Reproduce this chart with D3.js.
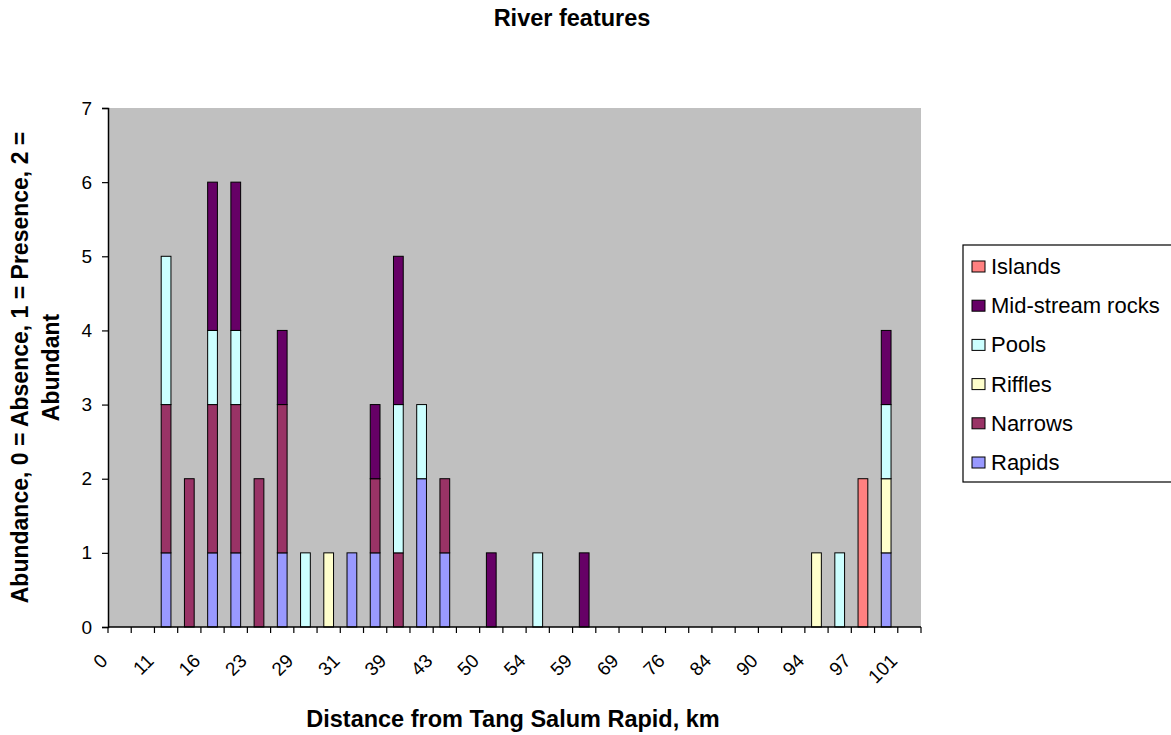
<!DOCTYPE html>
<html>
<head>
<meta charset="utf-8">
<script src="https://cdn.jsdelivr.net/npm/d3@7/dist/d3.min.js"></script>
<style>
  html, body { margin: 0; padding: 0; background: #fff; }
  svg { display: block; font-family: "Liberation Sans", Arial, sans-serif; }
</style>
</head>
<body>
<svg id="chart" width="1171" height="735"></svg>
<script>
// Distance along the river (km); every other station is labelled on the axis
const categories = ["0","5","11","14","16","19","23","26","29","30","31","35","39","41","43","47","50","52","54","57","59","64","69","73","76","80","84","87","90","92","94","95","97","99","101"];

// Abundance scores per station (0 = absence, 1 = presence, 2 = abundant)
const rapids  = [0,0,1,0,1,1,0,1,0,0, 1,1,0,2,1,0,0,0,0,0, 0,0,0,0,0,0,0,0,0,0, 0,0,0,1,0];
const narrows = [0,0,2,2,2,2,2,2,0,0, 0,1,1,0,1,0,0,0,0,0, 0,0,0,0,0,0,0,0,0,0, 0,0,0,0,0];
const riffles = [0,0,0,0,0,0,0,0,0,1, 0,0,0,0,0,0,0,0,0,0, 0,0,0,0,0,0,0,0,0,0, 1,0,0,1,0];
const pools   = [0,0,2,0,1,1,0,0,1,0, 0,0,2,1,0,0,0,0,1,0, 0,0,0,0,0,0,0,0,0,0, 0,1,0,1,0];
const rocks   = [0,0,0,0,2,2,0,1,0,0, 0,1,2,0,0,0,1,0,0,0, 1,0,0,0,0,0,0,0,0,0, 0,0,0,1,0];
const islands = [0,0,0,0,0,0,0,0,0,0, 0,0,0,0,0,0,0,0,0,0, 0,0,0,0,0,0,0,0,0,0, 0,0,2,0,0];

const seriesNames  = ["Rapids","Narrows","Riffles","Pools","Mid-stream rocks","Islands"];
const seriesValues = [rapids, narrows, riffles, pools, rocks, islands];
const seriesColors = ["#9999FF","#993366","#FFFFCC","#CCFFFF","#660066","#FF8080"];
const yTicks = [0,1,2,3,4,5,6,7];

const rows = categories.map((c, i) => {
  const r = { cat: c };
  seriesNames.forEach((s, k) => { r[s] = seriesValues[k][i]; });
  return r;
});

const svg = d3.select("#chart");
const plot = { left: 108, right: 921, top: 108, bottom: 627 };

const x = d3.scaleBand().domain(categories).range([plot.left, plot.right]).padding(0);
const y = d3.scaleLinear().domain([0, 7]).range([plot.bottom, plot.top]);
const color = d3.scaleOrdinal().domain(seriesNames).range(seriesColors);

// Plot background
svg.append("rect")
  .attr("x", plot.left).attr("y", plot.top)
  .attr("width", plot.right - plot.left).attr("height", plot.bottom - plot.top)
  .attr("fill", "#C0C0C0");

// Stacked bars
const stacked = d3.stack().keys(seriesNames)(rows);
const barW = x.bandwidth() * 0.42;
const layers = svg.append("g").selectAll("g")
  .data(stacked).join("g")
  .attr("fill", d => color(d.key));
layers.selectAll("rect")
  .data(d => d.filter(p => p[1] - p[0] > 0))
  .join("rect")
  .attr("x", p => x(p.data.cat) + (x.bandwidth() - barW) / 2)
  .attr("width", barW)
  .attr("y", p => y(p[1]))
  .attr("height", p => y(p[0]) - y(p[1]))
  .attr("stroke", "#000")
  .attr("stroke-width", 1);

// Y axis
const yAxis = svg.append("g")
  .attr("transform", `translate(${plot.left},0)`)
  .call(d3.axisLeft(y).tickValues(yTicks).tickSize(6).tickPadding(10).tickFormat(d3.format("d")));
yAxis.select(".domain").attr("stroke", "#000").attr("stroke-width", 1.5);
yAxis.selectAll(".tick line").attr("stroke", "#000").attr("stroke-width", 1.2);
yAxis.selectAll("text").attr("font-size", 19).attr("fill", "#000")
  .attr("font-family", "Liberation Sans, Arial, sans-serif");

// X axis: ticks at category boundaries, labels on every other station
const xAxisG = svg.append("g").attr("transform", `translate(0,${plot.bottom})`);
xAxisG.append("line")
  .attr("x1", plot.left).attr("x2", plot.right)
  .attr("stroke", "#000").attr("stroke-width", 1.5);
const boundaries = categories.map(c => x(c)).concat([x(categories[categories.length - 1]) + x.bandwidth()]);
xAxisG.selectAll("line.tk").data(boundaries).join("line")
  .attr("class", "tk")
  .attr("x1", d => d).attr("x2", d => d)
  .attr("y1", 0).attr("y2", 6)
  .attr("stroke", "#000").attr("stroke-width", 1.2);
xAxisG.selectAll("text").data(categories.filter((c, i) => i % 2 === 0)).join("text")
  .attr("transform", d => `translate(${x(d) + x.bandwidth() / 2 - 11},${35}) rotate(-45)`)
  .attr("text-anchor", "end")
  .attr("font-size", 19)
  .attr("fill", "#000")
  .text(d => d);

// Titles
svg.append("text")
  .attr("x", 572).attr("y", 26)
  .attr("text-anchor", "middle")
  .attr("font-size", 23.5).attr("font-weight", "bold")
  .text("River features");

svg.append("text")
  .attr("x", 513).attr("y", 727)
  .attr("text-anchor", "middle")
  .attr("font-size", 23.5).attr("font-weight", "bold")
  .text("Distance from Tang Salum Rapid, km");

const yTitle = svg.append("text")
  .attr("transform", `translate(0,${(plot.top + plot.bottom) / 2}) rotate(-90)`)
  .attr("text-anchor", "middle")
  .attr("font-size", 23).attr("font-weight", "bold");
yTitle.append("tspan").attr("x", 0).attr("y", 28).text("Abundance, 0 = Absence, 1 = Presence, 2 =");
yTitle.append("tspan").attr("x", 0).attr("y", 59).text("Abundant");

// Legend (listed top to bottom in reverse stacking order)
const legend = svg.append("g").attr("transform", "translate(963,245)");
legend.append("rect")
  .attr("x", 0).attr("y", 0).attr("width", 215).attr("height", 237)
  .attr("fill", "#fff").attr("stroke", "#000").attr("stroke-width", 1.2);
const legendItems = seriesNames.slice().reverse();
const li = legend.selectAll("g.item").data(legendItems).join("g")
  .attr("class", "item")
  .attr("transform", (d, i) => `translate(0,${21 + i * 39.2})`);
li.append("rect")
  .attr("x", 9).attr("y", -5).attr("width", 13).attr("height", 11)
  .attr("fill", d => color(d)).attr("stroke", "#000").attr("stroke-width", 1);
li.append("text")
  .attr("x", 28).attr("y", 8)
  .attr("font-size", 22)
  .text(d => d);
</script>
</body>
</html>
